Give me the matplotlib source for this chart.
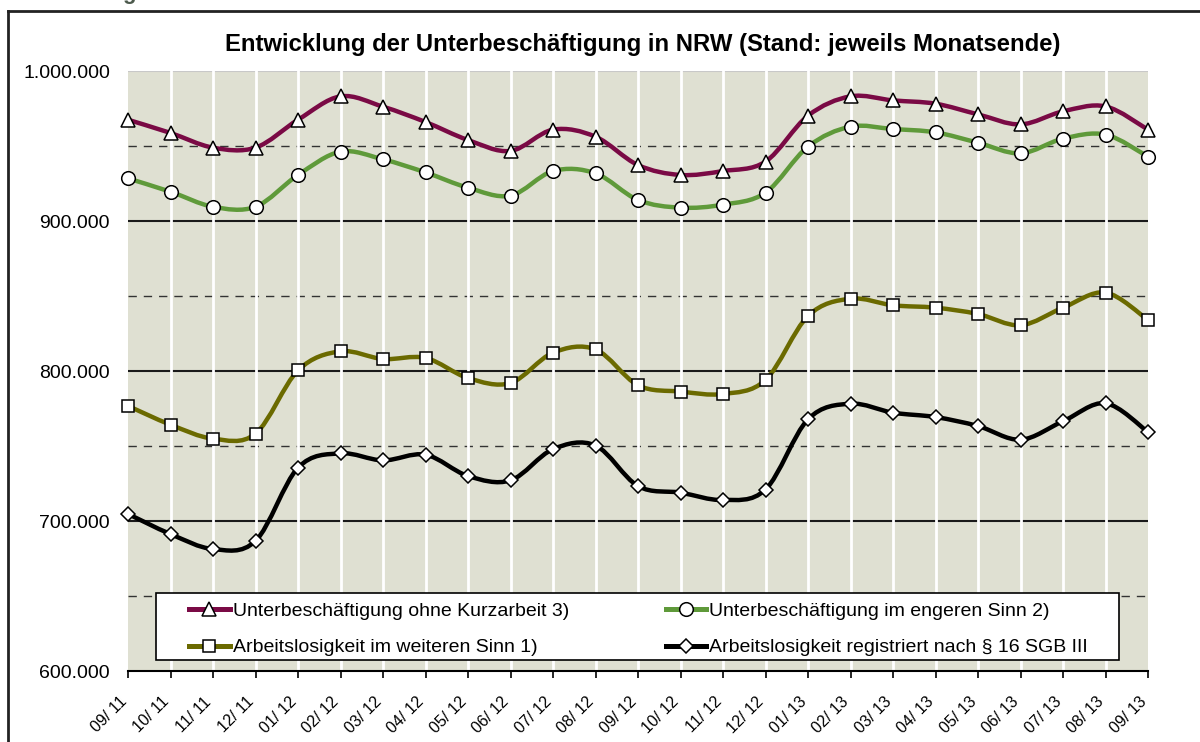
import matplotlib.pyplot as plt
import numpy as np
from matplotlib.path import Path
from matplotlib.patches import PathPatch, Rectangle
from matplotlib.lines import Line2D
from matplotlib.ticker import FuncFormatter
from matplotlib.transforms import ScaledTranslation

plt.rcParams["font.family"] = ["Liberation Sans", "DejaVu Sans"]

months = [
    "09/ 11", "10/ 11", "11/ 11", "12/ 11", "01/ 12", "02/ 12", "03/ 12",
    "04/ 12", "05/ 12", "06/ 12", "07/ 12", "08/ 12", "09/ 12", "10/ 12",
    "11/ 12", "12/ 12", "01/ 13", "02/ 13", "03/ 13", "04/ 13", "05/ 13",
    "06/ 13", "07/ 13", "08/ 13", "09/ 13",
]

# Unterbeschaeftigung ohne Kurzarbeit 3)
ohne_kurzarbeit = [
    967500, 958700, 948900, 948900, 967500, 983100, 976200, 966000, 954000,
    946700, 960900, 956200, 937300, 930700, 933300, 939600, 970200, 983100,
    980400, 978200, 971100, 964400, 973100, 976400, 960900,
]
# Unterbeschaeftigung im engeren Sinn 2)
engerer_sinn = [
    928400, 919500, 909500, 909500, 930700, 946200, 941100, 932400, 922200,
    916900, 933300, 931800, 914000, 908900, 910900, 918900, 949600, 962900,
    961300, 959100, 952200, 945100, 954900, 957600, 942900,
]
# Arbeitslosigkeit im weiteren Sinn 1)
weiterer_sinn = [
    776700, 764200, 754900, 758200, 800400, 813100, 808000, 808700, 795300,
    792000, 812200, 814400, 790500, 786300, 784700, 794000, 836700, 848200,
    843800, 842200, 838000, 830500, 842200, 852300, 834000,
]
# Arbeitslosigkeit registriert nach § 16 SGB III
registriert = [
    704700, 691300, 681300, 686700, 735500, 745100, 740400, 744200, 730000,
    727100, 747900, 750300, 723300, 718900, 714000, 721000, 767800, 778200,
    772200, 769300, 763300, 754200, 766500, 778500, 759300,
]

# legend order: column 1 = triangle, square ; column 2 = circle, diamond
series = [
    ("Unterbeschäftigung ohne Kurzarbeit 3)", ohne_kurzarbeit, "#7a0a45", "^", 9.8),
    ("Arbeitslosigkeit im weiteren Sinn 1)", weiterer_sinn, "#6b6a00", "s", 8.6),
    ("Unterbeschäftigung im engeren Sinn 2)", engerer_sinn, "#5f9a3a", "o", 9.8),
    ("Arbeitslosigkeit registriert nach § 16 SGB III", registriert, "#000000", "D", 7.4),
]


def smooth_path(x, y):
    # excel-like smoothed line: cubic bezier segments (catmull-rom tangents)
    pts = np.column_stack([x, y]).astype(float)
    n = len(pts)
    verts = [pts[0]]
    codes = [Path.MOVETO]
    for i in range(n - 1):
        p0 = pts[max(i - 1, 0)]
        p1 = pts[i]
        p2 = pts[i + 1]
        p3 = pts[min(i + 2, n - 1)]
        verts += [p1 + (p2 - p0) / 6, p2 - (p3 - p1) / 6, p2]
        codes += [Path.CURVE4] * 3
    return Path(verts, codes)


fig = plt.figure(figsize=(12, 7.42), dpi=100)
ax = fig.add_axes([128 / 1200, 1 - 671 / 742, 1020 / 1200, 600 / 742])
ax.set_facecolor("#dfe0d2")

x = np.arange(len(months))

# horizontal grid: solid at 100k, dashed at 50k
for v in [700000, 800000, 900000]:
    ax.axhline(v, color="#1a1a1a", lw=1.5, zorder=1)
for v in [650000, 750000, 850000, 950000]:
    ax.axhline(v, color="#333333", lw=1, ls=(0, (6, 5)), zorder=1)
ax.axhline(1000000, color="#c8c8c8", lw=1.5, zorder=1)

# white vertical lines
for xi in x[1:-1]:
    ax.axvline(xi, color="white", lw=2, zorder=2)

handles = []
for label, vals, col, mk, ms in series:
    patch = PathPatch(smooth_path(x, vals), facecolor="none", edgecolor=col,
                      lw=3.2, capstyle="round", joinstyle="round", zorder=3,
                      clip_on=False)
    ax.add_patch(patch)
    ax.plot(x, vals, ls="none", marker=mk, ms=ms, mfc="white", mec="black",
            mew=1.1, zorder=4, clip_on=False)
    handles.append(Line2D([], [], color=col, lw=3.6, marker=mk, ms=ms,
                          mfc="white", mec="black", mew=1.1, label=label))

ax.set_xlim(0, len(months) - 1)
ax.set_ylim(600000, 1000000)
ax.set_yticks([600000, 700000, 800000, 900000, 1000000])
ax.yaxis.set_major_formatter(FuncFormatter(lambda v, p: f"{int(v):,}".replace(",", ".")))
ax.tick_params(axis="y", length=0, pad=13, labelsize=14)
ax.set_xticks(x)
ax.set_xticklabels(months, rotation=45, ha="right", va="center",
                   rotation_mode="anchor", fontsize=11.5)
ax.tick_params(axis="x", length=5, width=1.2, color="black", pad=15.5)
shift = ScaledTranslation(-4 / 100, 0, fig.dpi_scale_trans)
for lbl in ax.get_xticklabels():
    lbl.set_transform(lbl.get_transform() + shift)

for s in ["top", "right", "left"]:
    ax.spines[s].set_visible(False)
ax.spines["bottom"].set_linewidth(1.5)
ax.spines["bottom"].set_zorder(5)

# legend frame drawn separately so the entries keep their inner margins
ax.add_patch(Rectangle((28 / 1020, 11 / 600), 963 / 1020, 67 / 600,
                       transform=ax.transAxes, facecolor="white",
                       edgecolor="black", lw=1.2, zorder=5, clip_on=False))
leg = ax.legend(handles=handles, ncol=2, loc="center left",
                bbox_to_anchor=(61 / 1020, 41.5 / 600, (960 - 61) / 1020, 0),
                mode="expand", fontsize=14, frameon=False, handlelength=2.1,
                handletextpad=0.15, borderaxespad=0, labelspacing=0.95,
                borderpad=0)
leg.set_zorder(6)

fig.text(643 / 1200, 1 - 44 / 742,
         "Entwicklung der Unterbeschäftigung in NRW (Stand: jeweils Monatsende)",
         ha="center", va="center", fontsize=17.2, fontweight="bold")

# cropped heading above the frame
fig.text(122 / 1200, 1 + 6 / 742, "g", ha="left", va="center", fontsize=16,
         fontweight="bold", color="#4d5a4d")

# chart frame (cut off at right and bottom)
fig.add_artist(Line2D([8 / 1200, 8 / 1200], [0, 1 - 11 / 742], color="#222222", lw=2,
                      transform=fig.transFigure))
fig.add_artist(Line2D([8 / 1200, 1], [1 - 11 / 742, 1 - 11 / 742], color="#222222", lw=2,
                      transform=fig.transFigure))

fig.savefig("out.png", dpi=100)
